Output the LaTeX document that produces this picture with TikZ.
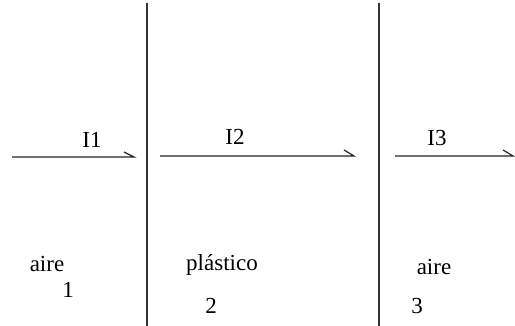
\documentclass[tikz,border=0pt]{standalone}
\usepackage{fontspec}
\setmainfont{Liberation Serif}
\begin{document}
\begin{tikzpicture}[x=1pt,y=-1pt,
  wall/.style={line width=1.8pt,draw=black!80},
  ray/.style={line width=1.2pt,draw=black!85},
  lbl/.style={anchor=base,inner sep=0pt,font=\fontsize{23}{27}\selectfont}]
\useasboundingbox[fill=white] (0,0) rectangle (515,326);
% walls
\coordinate (w1t) at (147,3); \coordinate (w1b) at (147,326);
\coordinate (w2t) at (379,3); \coordinate (w2b) at (379,326);
\draw[wall] (w1t) -- (w1b);
\draw[wall] (w2t) -- (w2b);
% rays
\coordinate (r1s) at (12,157);  \coordinate (r1e) at (134,157);
\coordinate (r2s) at (160,156); \coordinate (r2e) at (354,156);
\coordinate (r3s) at (395,156); \coordinate (r3e) at (513,156);
\draw[ray] (r1s) -- (r1e) -- ++(-10,-5);
\draw[ray] (r2s) -- (r2e) -- ++(-10,-6);
\draw[ray] (r3s) -- (r3e) -- ++(-10,-6);
% labels
\node[lbl] (i1) at (92,148) {I1};
\node[lbl] (i2) at (235,145) {I2};
\node[lbl] (i3) at (437,146) {I3};
\node[lbl] (m1) at (47,272) {aire};
\node[lbl] (n1) at (68,298) {1};
\node[lbl] (m2) at (222,271) {plástico};
\node[lbl] (n2) at (211,314) {2};
\node[lbl] (m3) at (434,275) {aire};
\node[lbl] (n3) at (417,314) {3};
\end{tikzpicture}
\end{document}
